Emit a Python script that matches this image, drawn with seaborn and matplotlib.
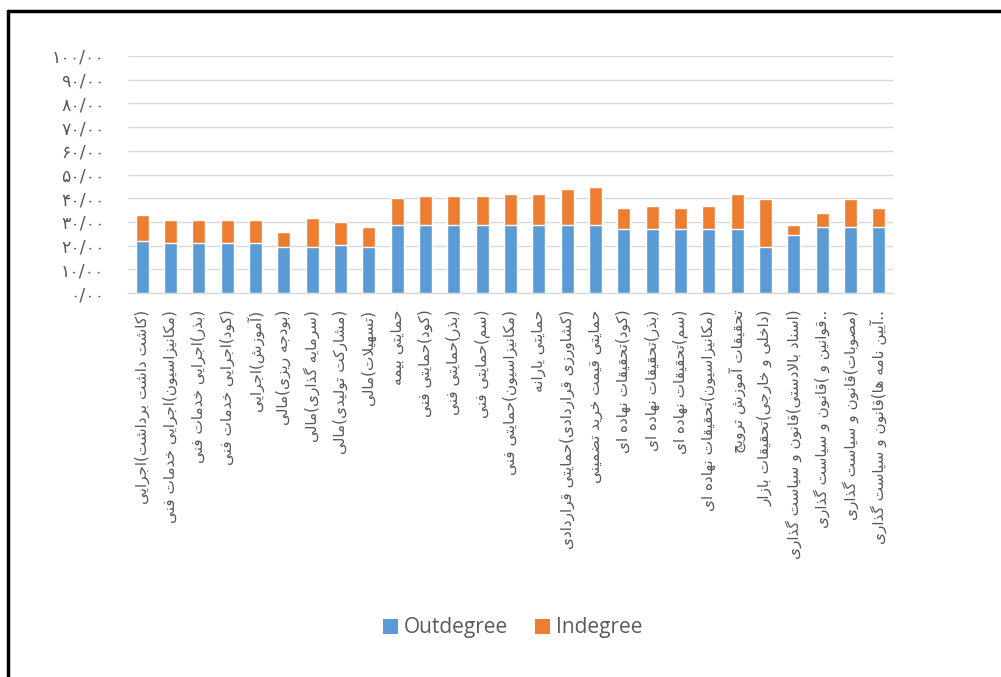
import matplotlib
matplotlib.use("Agg")
import matplotlib.pyplot as plt
from matplotlib.lines import Line2D
from matplotlib.patches import Patch
import seaborn as sns
import pandas as pd
import numpy as np

# ---------------- data ----------------
categories = [
    "(کاشت داشت برداشت)اجرایی",
    "(مکانیزاسیون)اجرایی خدمات فنی",
    "(بذر)اجرایی خدمات فنی",
    "(کود)اجرایی خدمات فنی",
    "(آموزش)اجرایی",
    "(بودجه ریزی)مالی",
    "(سرمایه گذاری)مالی",
    "(مشارکت تولیدی)مالی",
    "(تسهیلات)مالی",
    "حمایتی بیمه",
    "(کود)حمایتی فنی",
    "(بذر)حمایتی فنی",
    "(سم)حمایتی فنی",
    "(مکانیزاسیون)حمایتی فنی",
    "حمایتی یارانه",
    "(کشاورزی قراردادی)حمایتی قراردادی",
    "حمایتی قیمت خرید تضمینی",
    "(کود)تحقیقات نهاده ای",
    "(بذر)تحقیقات نهاده ای",
    "(سم)تحقیقات نهاده ای",
    "(مکانیزاسیون)تحقیقات نهاده ای",
    "تحقیقات آموزش ترویج",
    "(داخلی و خارجی)تحقیقات بازار",
    "(اسناد بالادستی)قانون و سیاست گذاری",
    "..قوانین و )قانون و سیاست گذاری",
    "(مصوبات)قانون و سیاست گذاری",
    "..آیین نامه ها)قانون و سیاست گذاری",
]
outdegree = [21.8, 20.9, 20.9, 20.9, 20.9, 19.5, 19.5, 20.1, 19.5,
             28.8, 28.8, 28.8, 28.8, 28.8, 28.8, 28.8, 28.8,
             26.8, 26.8, 26.8, 26.8, 26.8, 19.5, 24.6, 27.7, 27.7, 27.7]
indegree_total = [33.0, 30.9, 30.9, 30.9, 30.9, 25.8, 31.7, 30.1, 27.9,
                  40.2, 41.0, 41.0, 41.0, 41.9, 41.9, 44.0, 44.8,
                  36.0, 36.8, 36.0, 36.8, 41.9, 39.7, 28.8, 33.8, 39.7, 36.0]
indegree = [round(t - o, 2) for t, o in zip(indegree_total, outdegree)]
y_ticks = [0, 10, 20, 30, 40, 50, 60, 70, 80, 90, 100]
series_names = ["Outdegree", "Indegree"]

# ------------- simple Persian shaping (contextual forms + RTL order) -------------
FORMS = {  # isolated, final, initial, medial
    "ا": ("\uFE8D", "\uFE8E", None, None),
    "آ": ("\uFE81", "\uFE82", None, None),
    "ب": ("\uFE8F", "\uFE90", "\uFE91", "\uFE92"),
    "پ": ("\uFB56", "\uFB57", "\uFB58", "\uFB59"),
    "ت": ("\uFE95", "\uFE96", "\uFE97", "\uFE98"),
    "ث": ("\uFE99", "\uFE9A", "\uFE9B", "\uFE9C"),
    "ج": ("\uFE9D", "\uFE9E", "\uFE9F", "\uFEA0"),
    "چ": ("\uFB7A", "\uFB7B", "\uFB7C", "\uFB7D"),
    "ح": ("\uFEA1", "\uFEA2", "\uFEA3", "\uFEA4"),
    "خ": ("\uFEA5", "\uFEA6", "\uFEA7", "\uFEA8"),
    "د": ("\uFEA9", "\uFEAA", None, None),
    "ذ": ("\uFEAB", "\uFEAC", None, None),
    "ر": ("\uFEAD", "\uFEAE", None, None),
    "ز": ("\uFEAF", "\uFEB0", None, None),
    "ژ": ("\uFB8A", "\uFB8B", None, None),
    "س": ("\uFEB1", "\uFEB2", "\uFEB3", "\uFEB4"),
    "ش": ("\uFEB5", "\uFEB6", "\uFEB7", "\uFEB8"),
    "ص": ("\uFEB9", "\uFEBA", "\uFEBB", "\uFEBC"),
    "ض": ("\uFEBD", "\uFEBE", "\uFEBF", "\uFEC0"),
    "ط": ("\uFEC1", "\uFEC2", "\uFEC3", "\uFEC4"),
    "ظ": ("\uFEC5", "\uFEC6", "\uFEC7", "\uFEC8"),
    "ع": ("\uFEC9", "\uFECA", "\uFECB", "\uFECC"),
    "غ": ("\uFECD", "\uFECE", "\uFECF", "\uFED0"),
    "ف": ("\uFED1", "\uFED2", "\uFED3", "\uFED4"),
    "ق": ("\uFED5", "\uFED6", "\uFED7", "\uFED8"),
    "ک": ("\uFB8E", "\uFB8F", "\uFB90", "\uFB91"),
    "گ": ("\uFB92", "\uFB93", "\uFB94", "\uFB95"),
    "ل": ("\uFEDD", "\uFEDE", "\uFEDF", "\uFEE0"),
    "م": ("\uFEE1", "\uFEE2", "\uFEE3", "\uFEE4"),
    "ن": ("\uFEE5", "\uFEE6", "\uFEE7", "\uFEE8"),
    "و": ("\uFEED", "\uFEEE", None, None),
    "ه": ("\uFEE9", "\uFEEA", "\uFEEB", "\uFEEC"),
    "ی": ("\uFBFC", "\uFBFD", "\uFBFE", "\uFBFF"),
}
LAM_ALEF = {"ا": ("\uFEFB", "\uFEFC"), "آ": ("\uFEF5", "\uFEF6")}
MIRROR = {"(": ")", ")": "("}


def joins_next(ch):
    f = FORMS.get(ch)
    return f is not None and f[2] is not None


def shape(text):
    chars = list(text)
    out = []
    i = 0
    n = len(chars)
    while i < n:
        c = chars[i]
        if c not in FORMS:
            out.append(MIRROR.get(c, c))
            i += 1
            continue
        prev = chars[i - 1] if i > 0 else None
        join_prev = prev is not None and joins_next(prev)
        if c == "ل" and i + 1 < n and chars[i + 1] in LAM_ALEF:
            iso, fin = LAM_ALEF[chars[i + 1]]
            out.append(fin if join_prev else iso)
            i += 2
            continue
        nxt = chars[i + 1] if i + 1 < n else None
        join_next = joins_next(c) and nxt is not None and nxt in FORMS
        iso, fin, ini, med = FORMS[c]
        if join_prev and join_next:
            out.append(med)
        elif join_prev:
            out.append(fin)
        elif join_next:
            out.append(ini)
        else:
            out.append(iso)
        i += 1
    return "".join(reversed(out))


PERSIAN_DIGITS = str.maketrans("0123456789", "۰۱۲۳۴۵۶۷۸۹")


def fa_num(v):
    return ("%d/00" % v).translate(PERSIAN_DIGITS)


# ---------------- plot ----------------
sns.set_theme(style="white")
plt.rcParams["font.family"] = ["DejaVu Sans"]

df = pd.DataFrame({"category": categories, "Outdegree": outdegree,
                   "Total": indegree_total})

blue = "#5b9bd5"
orange = "#ed7d31"
grey_text = "#595959"

fig = plt.figure(figsize=(10.01, 6.77), dpi=100)
ax = fig.add_axes([128 / 1001, 1 - 293 / 677, (893 - 128) / 1001, (293 - 56) / 677])

sns.barplot(data=df, x="category", y="Total", color=orange, width=0.46,
            saturation=1, ax=ax, zorder=3)
sns.barplot(data=df, x="category", y="Outdegree", color=blue, width=0.46,
            saturation=1, ax=ax, zorder=4)

ax.set_ylim(0, 100)
ax.set_xlim(-0.5, len(categories) - 0.5)
ax.set_yticks(y_ticks)
ax.set_yticklabels([fa_num(v) for v in y_ticks], color=grey_text, fontsize=12.5)
ax.yaxis.grid(True, color="#d9d9d9", linewidth=1.0, zorder=0)
ax.xaxis.grid(False)
ax.set_axisbelow(True)
for s in ["top", "right", "left"]:
    ax.spines[s].set_visible(False)
ax.spines["bottom"].set_color("#d9d9d9")
ax.spines["bottom"].set_linewidth(1.0)
ax.tick_params(axis="y", length=0, pad=17)
ax.tick_params(axis="x", length=0, pad=12)
ax.set_xticks(range(len(categories)))
ax.set_xticklabels([shape(c) for c in categories], rotation=90,
                   color=grey_text, fontsize=11, va="top", ha="center")
ax.set_xlabel("")
ax.set_ylabel("")

handles = [Patch(facecolor=blue, edgecolor="none"),
           Patch(facecolor=orange, edgecolor="none")]
leg = fig.legend(handles, series_names, loc="center", bbox_to_anchor=(513 / 1001, 1 - 628 / 677),
                 ncol=2, frameon=False, handlelength=0.7, handleheight=0.7,
                 handletextpad=0.3, columnspacing=1.3, prop={"family": "Open Sans", "size": 15})
for t in leg.get_texts():
    t.set_color(grey_text)

# document frame
fig.add_artist(Line2D([7.5 / 1001, 7.5 / 1001], [0, 1 - 11 / 677], transform=fig.transFigure,
                      color="black", linewidth=2.5))
fig.add_artist(Line2D([7.5 / 1001, 1.0], [1 - 11 / 677, 1 - 11 / 677], transform=fig.transFigure,
                      color="black", linewidth=2.5))

fig.savefig("out.png", dpi=100)
